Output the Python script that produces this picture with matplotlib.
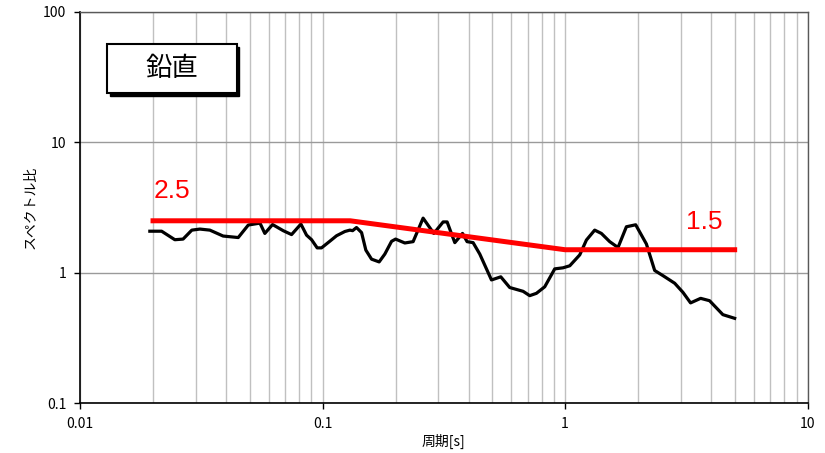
import numpy as np
import matplotlib
matplotlib.use("Agg")
import matplotlib.pyplot as plt
from matplotlib.patches import Rectangle
from matplotlib.ticker import FixedLocator, NullFormatter

plt.rcParams['font.family'] = ['Noto Sans CJK JP', 'DejaVu Sans']

# observed spectral ratio (period [s], ratio)
period = [0.0194, 0.0217, 0.0246, 0.0266, 0.0289, 0.0312, 0.0343, 0.0389, 0.0449, 0.0494,
          0.0552, 0.0578, 0.0622, 0.0688, 0.0745, 0.0814, 0.0859, 0.0901, 0.095, 0.099,
          0.107, 0.1142, 0.1236, 0.1296, 0.133, 0.138, 0.1448, 0.1508, 0.1592, 0.1711,
          0.1806, 0.1925, 0.2, 0.2183, 0.2362, 0.2597, 0.2875, 0.3141, 0.3262, 0.3509,
          0.3775, 0.3943, 0.4174, 0.4447, 0.497, 0.5429, 0.591, 0.671, 0.7146, 0.7615,
          0.824, 0.906, 0.98, 1.045, 1.149, 1.224, 1.324, 1.411, 1.527, 1.652,
          1.789, 1.954, 2.163, 2.34, 2.53, 2.83, 3.06, 3.29, 3.62, 3.94,
          4.47, 5.0]
ratio = [2.08, 2.08, 1.79, 1.81, 2.12, 2.16, 2.12, 1.91, 1.86, 2.32,
         2.40, 2.00, 2.34, 2.10, 1.96, 2.36, 1.94, 1.79, 1.55, 1.55,
         1.74, 1.92, 2.07, 2.12, 2.10, 2.22, 2.03, 1.49, 1.27, 1.21,
         1.39, 1.74, 1.81, 1.69, 1.73, 2.62, 2.00, 2.45, 2.45, 1.70,
         2.00, 1.73, 1.70, 1.39, 0.88, 0.93, 0.77, 0.72, 0.667, 0.695,
         0.78, 1.07, 1.09, 1.13, 1.37, 1.78, 2.12, 2.00, 1.73, 1.56,
         2.25, 2.33, 1.66, 1.04, 0.95, 0.83, 0.707, 0.587, 0.636, 0.61,
         0.477, 0.447]

# design ratio
design_period = [0.02, 0.13, 1.0, 5.0]
design_ratio = [2.5, 2.5, 1.5, 1.5]

fig = plt.figure(figsize=(8.25, 4.53), dpi=100)
ax = fig.add_axes([0.097, 0.110, 0.882, 0.864])

ax.set_xscale('log')
ax.set_yscale('log')
ax.set_xlim(0.01, 10)
ax.set_ylim(0.1, 100)

# grid: all vertical decades + minors, horizontal only majors
xminor = [m * 10.0 ** e for e in (-2, -1, 0) for m in range(2, 10)]
ax.xaxis.set_minor_locator(FixedLocator(xminor))
ax.xaxis.set_minor_formatter(NullFormatter())
ax.yaxis.set_minor_locator(FixedLocator([]))
ax.grid(True, which='minor', axis='x', color='#c0c0c0', linewidth=1.0)
ax.grid(True, which='major', axis='x', color='#c0c0c0', linewidth=1.0)
ax.grid(True, which='major', axis='y', color='#9a9a9a', linewidth=1.0)
ax.set_axisbelow(True)

ax.set_xticks([0.01, 0.1, 1, 10])
ax.set_xticklabels(['0.01', '0.1', '1', '10'])
ax.set_yticks([0.1, 1, 10, 100])
ax.set_yticklabels(['0.1', '1', '10', '100'])
ax.tick_params(which='major', direction='out', length=4, width=1, labelsize=10, pad=6)
ax.tick_params(which='minor', length=0)

for s in ['left', 'bottom']:
    ax.spines[s].set_color('black')
    ax.spines[s].set_linewidth(1.2)
for s in ['top', 'right']:
    ax.spines[s].set_color('#595959')
    ax.spines[s].set_linewidth(1.0)

ax.plot(period, ratio, color='black', linewidth=2.3, zorder=3)
ax.plot(design_period, design_ratio, color='#ff0000', linewidth=3.6, zorder=4)

ax.text(0.0202, 3.4, '2.5', color='#ff0000', fontsize=19, family='Liberation Sans',
        ha='left', va='bottom')
ax.text(3.15, 1.97, '1.5', color='#ff0000', fontsize=19, family='Liberation Sans',
        ha='left', va='bottom')

ax.set_xlabel('周期[s]', fontsize=10, labelpad=2)
ax.set_ylabel('スペクトル比', fontsize=10, labelpad=4)

# label box with shadow
bx, by, bw, bh = 0.0371, 0.792, 0.1786, 0.125
dx, dy = 2.5 / 728, 2.5 / 391
ax.add_patch(Rectangle((bx + dx, by - dy), bw, bh, transform=ax.transAxes,
                       facecolor='black', edgecolor='black', zorder=5))
ax.add_patch(Rectangle((bx, by), bw, bh, transform=ax.transAxes,
                       facecolor='white', edgecolor='black', linewidth=1.5, zorder=6))
ax.text(bx + bw / 2, by + bh / 2, '鉛直', transform=ax.transAxes, fontsize=19,
        ha='center', va='center', zorder=7)

fig.savefig('out.png', dpi=100)
